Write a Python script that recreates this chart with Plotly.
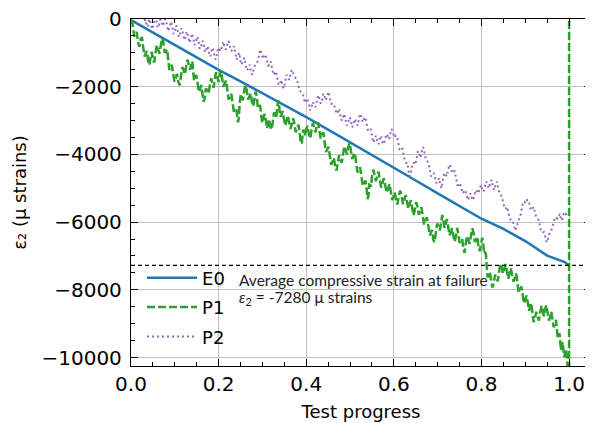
import plotly.graph_objects as go

# ---------------- data ----------------
e0_x = [0.0, 0.05, 0.1, 0.15, 0.2, 0.25, 0.3, 0.35, 0.4, 0.45, 0.5, 0.55, 0.6, 0.65, 0.7,
        0.75, 0.8, 0.85, 0.9, 0.95, 0.97, 0.99, 1.0]
e0_y = [-30, -400, -770, -1130, -1500, -1840, -2190, -2550, -2900, -3270, -3640, -4010, -4390,
        -4770, -5150, -5530, -5900, -6200, -6560, -6990, -7090, -7180, -7280]

p1_x = [0.000, 0.0025, 0.005, 0.0075, 0.010, 0.013, 0.016, 0.019, 0.022, 0.025, 0.028, 0.031,
        0.034, 0.0365, 0.039, 0.042, 0.045, 0.0475, 0.050, 0.053, 0.056, 0.059, 0.062, 0.065,
        0.068, 0.071, 0.074, 0.077, 0.080, 0.0825, 0.085, 0.0875, 0.090, 0.093, 0.096, 0.099,
        0.102, 0.105, 0.108, 0.111, 0.114, 0.117, 0.120, 0.123, 0.126, 0.129, 0.132, 0.135,
        0.138, 0.140, 0.142, 0.144, 0.146, 0.149, 0.152, 0.155, 0.158, 0.1605, 0.163, 0.1655,
        0.168, 0.171, 0.174, 0.177, 0.180, 0.183, 0.186, 0.1885, 0.191, 0.194, 0.197, 0.200,
        0.203, 0.2055, 0.208, 0.211, 0.214, 0.217, 0.220, 0.223, 0.226, 0.229, 0.232, 0.235,
        0.238, 0.241, 0.244, 0.246, 0.248, 0.2505, 0.253, 0.2555, 0.258, 0.261, 0.264, 0.267,
        0.270, 0.273, 0.276, 0.279, 0.282, 0.2845, 0.287, 0.2895, 0.292, 0.2945, 0.297, 0.2995,
        0.302, 0.305, 0.308, 0.3105, 0.313, 0.3155, 0.318, 0.321, 0.324, 0.3265, 0.329, 0.3315,
        0.334, 0.336, 0.338, 0.3405, 0.343, 0.346, 0.349, 0.352, 0.355, 0.358, 0.361, 0.364,
        0.367, 0.370, 0.373, 0.376, 0.379, 0.382, 0.385, 0.3875, 0.390, 0.3925, 0.395, 0.3975,
        0.400, 0.403, 0.406, 0.409, 0.412, 0.415, 0.418, 0.421, 0.424, 0.427, 0.430, 0.433,
        0.436, 0.439, 0.442, 0.445, 0.448, 0.451, 0.454, 0.457, 0.460, 0.463, 0.466, 0.469,
        0.472, 0.475, 0.478, 0.481, 0.484, 0.487, 0.490, 0.493, 0.496, 0.499, 0.502, 0.505,
        0.508, 0.511, 0.514, 0.517, 0.520, 0.523, 0.526, 0.529, 0.532, 0.535, 0.538, 0.540,
        0.542, 0.544, 0.546, 0.548, 0.550, 0.553, 0.556, 0.559, 0.562, 0.565, 0.568, 0.571,
        0.574, 0.577, 0.580, 0.5835, 0.587, 0.590, 0.593, 0.596, 0.599, 0.602, 0.605, 0.608,
        0.611, 0.6145, 0.618, 0.621, 0.624, 0.627, 0.630, 0.633, 0.636, 0.639, 0.642, 0.645,
        0.648, 0.651, 0.654, 0.657, 0.660, 0.663, 0.666, 0.669, 0.672, 0.6755, 0.679, 0.682,
        0.685, 0.6875, 0.690, 0.693, 0.696, 0.699, 0.702, 0.705, 0.708, 0.7105, 0.713, 0.7155,
        0.718, 0.721, 0.724, 0.727, 0.730, 0.733, 0.736, 0.739, 0.742, 0.7445, 0.747, 0.750,
        0.753, 0.756, 0.759, 0.7615, 0.764, 0.767, 0.770, 0.773, 0.776, 0.779, 0.782, 0.785,
        0.788, 0.7905, 0.793, 0.796, 0.799, 0.8015, 0.804, 0.806, 0.808, 0.810, 0.812, 0.814,
        0.816, 0.819, 0.822, 0.825, 0.828, 0.831, 0.834, 0.837, 0.840, 0.843, 0.846, 0.849,
        0.852, 0.855, 0.858, 0.861, 0.864, 0.867, 0.870, 0.8735, 0.877, 0.8795, 0.882, 0.885,
        0.888, 0.891, 0.894, 0.897, 0.900, 0.903, 0.906, 0.9085, 0.911, 0.9135, 0.916, 0.919,
        0.922, 0.925, 0.928, 0.931, 0.934, 0.937, 0.940, 0.9425, 0.945, 0.948, 0.951, 0.954,
        0.957, 0.9595, 0.962, 0.965, 0.968, 0.970, 0.972, 0.974, 0.976, 0.978, 0.980, 0.9815,
        0.983, 0.985, 0.987, 0.989, 0.991, 0.993, 0.995, 0.9965, 0.998, 1.000, 1.000]
p1_y = [-80, -50, -300, -520, -450, -380, -680, -820, -600, -540, -850, -1110,
        -1000, -950, -1250, -1360, -1100, -970, -1200, -1280, -1000, -770, -900, -1020,
        -780, -560, -700, -1000, -950, -900, -1200, -1500, -1450, -1350, -1600, -1850,
        -1750, -1620, -1850, -1960, -1700, -1420, -1500, -1630, -1400, -1200, -1350, -1500,
        -1300, -1250, -1550, -1830, -1750, -1650, -1900, -2150, -2050, -1950, -2200, -2450,
        -2350, -2050, -2100, -2200, -1950, -1750, -1900, -2030, -1800, -1570, -1700, -1860,
        -1650, -1520, -1750, -2000, -1900, -1820, -2100, -2380, -2300, -2210, -2480, -2770,
        -2700, -2700, -3050, -2950, -2500, -2220, -2300, -2400, -2150, -1950, -2100, -2380,
        -2300, -2190, -2440, -2570, -2350, -2140, -2280, -2620, -2600, -2540, -2830, -3070,
        -2950, -2800, -3000, -3230, -3100, -2960, -3180, -3270, -3000, -2760, -2880, -2920,
        -2600, -2400, -2550, -2880, -2850, -2720, -2950, -3150, -3000, -2850, -3050, -3250,
        -3100, -2930, -3100, -3350, -3250, -3120, -3350, -3680, -3650, -3300, -3300, -3450,
        -3250, -3150, -3400, -3530, -3300, -3070, -3200, -3350, -3150, -3050, -3300, -3530,
        -3400, -3350, -3650, -3930, -3850, -3780, -4060, -4310, -4200, -4100, -4360, -4480,
        -4250, -4020, -4150, -4250, -4000, -3760, -3870, -4000, -3780, -3660, -3900, -4140,
        -4020, -3960, -4250, -4530, -4460, -4380, -4650, -4930, -4850, -4770, -5050, -5320,
        -5230, -4890, -4900, -4950, -4650, -4450, -4600, -4790, -4620, -4510, -4750, -4980,
        -4850, -4700, -4900, -5130, -5000, -4870, -5100, -5350, -5240, -5120, -5350, -5480,
        -5250, -5070, -5240, -5470, -5350, -5200, -5400, -5600, -5450, -5350, -5600, -5800,
        -5630, -5410, -5550, -5780, -5650, -5560, -5830, -6070, -5950, -5860, -6130, -6390,
        -6300, -6230, -6520, -6590, -6300, -6040, -6130, -6240, -6000, -5790, -5930, -6170,
        -6050, -5910, -6130, -6390, -6300, -6180, -6420, -6580, -6380, -6170, -6320, -6610,
        -6550, -6500, -6810, -6910, -6650, -6410, -6520, -6640, -6400, -6180, -6320, -6590,
        -6500, -6430, -6720, -6860, -6650, -6460, -6620, -6940, -6900, -6930, -7310, -7630,
        -7600, -7470, -7700, -7930, -7800, -7550, -7650, -7750, -7500, -7230, -7310, -7520,
        -7380, -7240, -7450, -7670, -7520, -7360, -7560, -7760, -7600, -7520, -7800, -8080,
        -8000, -7900, -8150, -8400, -8290, -8170, -8400, -8620, -8490, -8390, -8650, -8950,
        -8880, -8650, -8780, -8910, -8680, -8470, -8620, -8780, -8585, -8450, -8680, -8910,
        -8780, -8650, -8880, -9110, -8980, -8890, -9150, -9440, -9370, -9280, -9550, -9790,
        -9670, -9540, -9760, -9990, -9860, -9750, -10000, -10260, -10160, -10300, 500]

p2_x = [0.030, 0.033, 0.035, 0.038, 0.040, 0.043, 0.046, 0.049, 0.052, 0.055, 0.058, 0.061,
        0.064, 0.067, 0.070, 0.073, 0.076, 0.079, 0.082, 0.085, 0.088, 0.091, 0.094, 0.097,
        0.100, 0.103, 0.106, 0.109, 0.112, 0.115, 0.118, 0.121, 0.124, 0.127, 0.130, 0.133,
        0.136, 0.139, 0.142, 0.145, 0.148, 0.151, 0.154, 0.157, 0.160, 0.163, 0.166, 0.169,
        0.172, 0.175, 0.178, 0.181, 0.184, 0.187, 0.190, 0.193, 0.196, 0.199, 0.202, 0.205,
        0.208, 0.211, 0.214, 0.217, 0.220, 0.223, 0.226, 0.229, 0.232, 0.235, 0.238, 0.241,
        0.244, 0.247, 0.250, 0.253, 0.256, 0.259, 0.262, 0.265, 0.268, 0.271, 0.274, 0.277,
        0.280, 0.283, 0.286, 0.289, 0.292, 0.295, 0.298, 0.301, 0.304, 0.307, 0.310, 0.313,
        0.316, 0.319, 0.322, 0.325, 0.328, 0.331, 0.334, 0.337, 0.340, 0.343, 0.346, 0.349,
        0.352, 0.355, 0.358, 0.361, 0.364, 0.367, 0.370, 0.373, 0.376, 0.379, 0.382, 0.385,
        0.388, 0.391, 0.394, 0.397, 0.400, 0.403, 0.406, 0.409, 0.412, 0.415, 0.418, 0.421,
        0.424, 0.427, 0.430, 0.433, 0.436, 0.439, 0.442, 0.445, 0.448, 0.451, 0.454, 0.457,
        0.460, 0.463, 0.466, 0.469, 0.472, 0.475, 0.478, 0.481, 0.484, 0.487, 0.490, 0.493,
        0.496, 0.499, 0.502, 0.505, 0.508, 0.511, 0.514, 0.517, 0.520, 0.523, 0.526, 0.529,
        0.532, 0.535, 0.538, 0.541, 0.544, 0.547, 0.550, 0.553, 0.556, 0.559, 0.562, 0.565,
        0.568, 0.571, 0.574, 0.577, 0.580, 0.583, 0.586, 0.589, 0.592, 0.595, 0.598, 0.601,
        0.604, 0.607, 0.610, 0.613, 0.616, 0.619, 0.622, 0.625, 0.628, 0.631, 0.634, 0.637,
        0.640, 0.643, 0.646, 0.649, 0.652, 0.655, 0.658, 0.661, 0.664, 0.667, 0.670, 0.673,
        0.676, 0.679, 0.682, 0.685, 0.688, 0.691, 0.694, 0.697, 0.700, 0.703, 0.706, 0.709,
        0.712, 0.715, 0.718, 0.721, 0.724, 0.727, 0.730, 0.733, 0.736, 0.739, 0.742, 0.745,
        0.748, 0.751, 0.754, 0.757, 0.760, 0.763, 0.766, 0.769, 0.772, 0.775, 0.778, 0.781,
        0.784, 0.787, 0.790, 0.793, 0.796, 0.799, 0.802, 0.805, 0.808, 0.811, 0.814, 0.817,
        0.820, 0.823, 0.826, 0.829, 0.832, 0.835, 0.838, 0.841, 0.844, 0.847, 0.850, 0.853,
        0.856, 0.859, 0.862, 0.865, 0.868, 0.871, 0.874, 0.877, 0.880, 0.883, 0.886, 0.889,
        0.892, 0.895, 0.898, 0.901, 0.904, 0.907, 0.910, 0.913, 0.916, 0.919, 0.922, 0.925,
        0.928, 0.931, 0.934, 0.937, 0.940, 0.943, 0.946, 0.949, 0.952, 0.955, 0.958, 0.961,
        0.964, 0.967, 0.970, 0.973, 0.976, 0.979, 0.982, 0.985, 0.988, 0.991, 0.994]
p2_y = [-50, -10, -150, -230, -60, 0, -200, -300, -100, -20, -40, -260,
        -180, -10, -90, -210, -30, 0, -160, -360, -260, -80, -200, -440,
        -380, -190, -300, -530, -450, -270, -390, -620, -560, -370, -480, -700,
        -620, -430, -540, -770, -700, -520, -640, -880, -820, -640, -760, -980,
        -900, -800, -1000, -1110, -920, -850, -1080, -1200, -1040, -850, -900, -950,
        -780, -670, -860, -900, -740, -650, -820, -950, -900, -800, -1000, -1200,
        -1100, -1000, -1250, -1350, -1200, -1150, -1380, -1520, -1450, -1350, -1560, -1650,
        -1500, -1350, -1300, -1250, -1100, -900, -1000, -1180, -1080, -1050, -1200, -1380,
        -1350, -1250, -1450, -1650, -1600, -1550, -1750, -1950, -1900, -1800, -2000, -2050,
        -1850, -1650, -1700, -1800, -1650, -1500, -1600, -1700, -1750, -1800, -1950, -2120,
        -2150, -2180, -2300, -2480, -2400, -2350, -2500, -2700, -2600, -2450, -2550, -2600,
        -2450, -2250, -2350, -2500, -2400, -2200, -2300, -2400, -2250, -2150, -2350, -2500,
        -2500, -2500, -2650, -2800, -2750, -2650, -2850, -3000, -2900, -2800, -2980, -3150,
        -3050, -2900, -3000, -3200, -3100, -2950, -3060, -3150, -2980, -2800, -2900, -3050,
        -2950, -2900, -3100, -3300, -3300, -3250, -3450, -3650, -3560, -3450, -3600, -3700,
        -3500, -3450, -3650, -3700, -3550, -3400, -3450, -3550, -3380, -3250, -3350, -3500,
        -3450, -3450, -3650, -3850, -3850, -3800, -4000, -4200, -4250, -4250, -4550, -4650,
        -4450, -4250, -4250, -4300, -4100, -3900, -4000, -4100, -3900, -3780, -3950, -4150,
        -4200, -4250, -4450, -4650, -4600, -4550, -4700, -4850, -4800, -4700, -4900, -5000,
        -4750, -4550, -4600, -4650, -4450, -4300, -4380, -4550, -4500, -4500, -4700, -4900,
        -4900, -4850, -5000, -5150, -5100, -5050, -5200, -5350, -5250, -5150, -5300, -5350,
        -5200, -5050, -5100, -5150, -5000, -4900, -5050, -5100, -4950, -4800, -4900, -5000,
        -4850, -4750, -4950, -5050, -4900, -4800, -4980, -5150, -5200, -5250, -5450, -5600,
        -5600, -5550, -5750, -5900, -5950, -5950, -6100, -6250, -6150, -6000, -5900, -5800,
        -5600, -5400, -5400, -5450, -5350, -5350, -5500, -5650, -5600, -5550, -5700, -5850,
        -5900, -5950, -6150, -6300, -6300, -6300, -6450, -6600, -6500, -6350, -6300, -6200,
        -6050, -5900, -5850, -5900, -5800, -5750, -5950, -5900, -5750, -5700, -5800]

failure_strain = -7280
x_ticks = [0.0, 0.2, 0.4, 0.6, 0.8, 1.0]
y_ticks = [0, -2000, -4000, -6000, -8000, -10000]

# ---------------- figure ----------------
fig = go.Figure()

fig.add_trace(go.Scatter(x=e0_x, y=e0_y, mode="lines", name="E0", legendgroup="a",
                         line=dict(color="#1f77b4", width=2.5)))
fig.add_trace(go.Scatter(x=p1_x, y=p1_y, mode="lines", name="P1", legendgroup="b",
                         line=dict(color="#2ca02c", width=2.5, dash="8px,3px")))
fig.add_trace(go.Scatter(x=p2_x, y=p2_y, mode="lines", name="P2", legendgroup="c",
                         line=dict(color="#9467bd", width=2, dash="2px,3px")))

fig.add_hline(y=failure_strain, line=dict(color="black", width=1.2, dash="4px,3px"))

annot_font = dict(family="Lato, Liberation Sans, sans-serif", size=15.5, color="#222222")
fig.add_annotation(x=0.243, y=-7700, xref="x", yref="y", xanchor="left", yanchor="middle",
                   text="Average compressive strain at failure", showarrow=False, font=annot_font)
fig.add_annotation(x=0.243, y=-8230, xref="x", yref="y", xanchor="left", yanchor="middle",
                   text="<i>ε</i><sub>2</sub> = -7280 μ strains", showarrow=False, font=annot_font)

axis_common = dict(
    showline=True, linecolor="black", linewidth=1.3, mirror="allticks",
    ticks="inside", ticklen=7, tickwidth=1.2, tickcolor="black",
    showgrid=True, gridcolor="#c0c0c0", gridwidth=1, zeroline=False, automargin=False,
    ticklabeloverflow="allow",
    tickfont=dict(family="DejaVu Sans", size=20, color="black"),
)

fig.update_xaxes(
    range=[0, 1.05], tickvals=x_ticks, tickformat=".1f",
    minor=dict(ticks="inside", ticklen=4, dtick=0.05, tickcolor="black", showgrid=False),
    title=dict(text="Test progress", font=dict(family="DejaVu Sans", size=18, color="black"), standoff=10),
    **axis_common,
)
fig.update_yaxes(
    range=[-10250, 0], tickvals=y_ticks, tickformat="d",
    minor=dict(ticks="inside", ticklen=4, dtick=500, tickcolor="black", showgrid=False),
    title=dict(text="ε₂ (μ strains)", font=dict(family="DejaVu Sans", size=18, color="black"), standoff=10),
    ticklabelstandoff=4,
    **axis_common,
)

# the page body adds an 8px offset, so the figure is sized to leave the plot area
# at the same place as in the reference window
fig.update_layout(
    width=585, height=415,
    margin=dict(l=123, r=2, t=11, b=57),
    plot_bgcolor="white", paper_bgcolor="white",
    legend=dict(x=0.024, y=0.307, xanchor="left", yanchor="top",
                bgcolor="rgba(0,0,0,0)", borderwidth=0,
                font=dict(family="DejaVu Sans", size=18, color="black"),
                itemwidth=50, tracegroupgap=3, traceorder="grouped"),
    showlegend=True,
)

fig.write_html("out.html")
